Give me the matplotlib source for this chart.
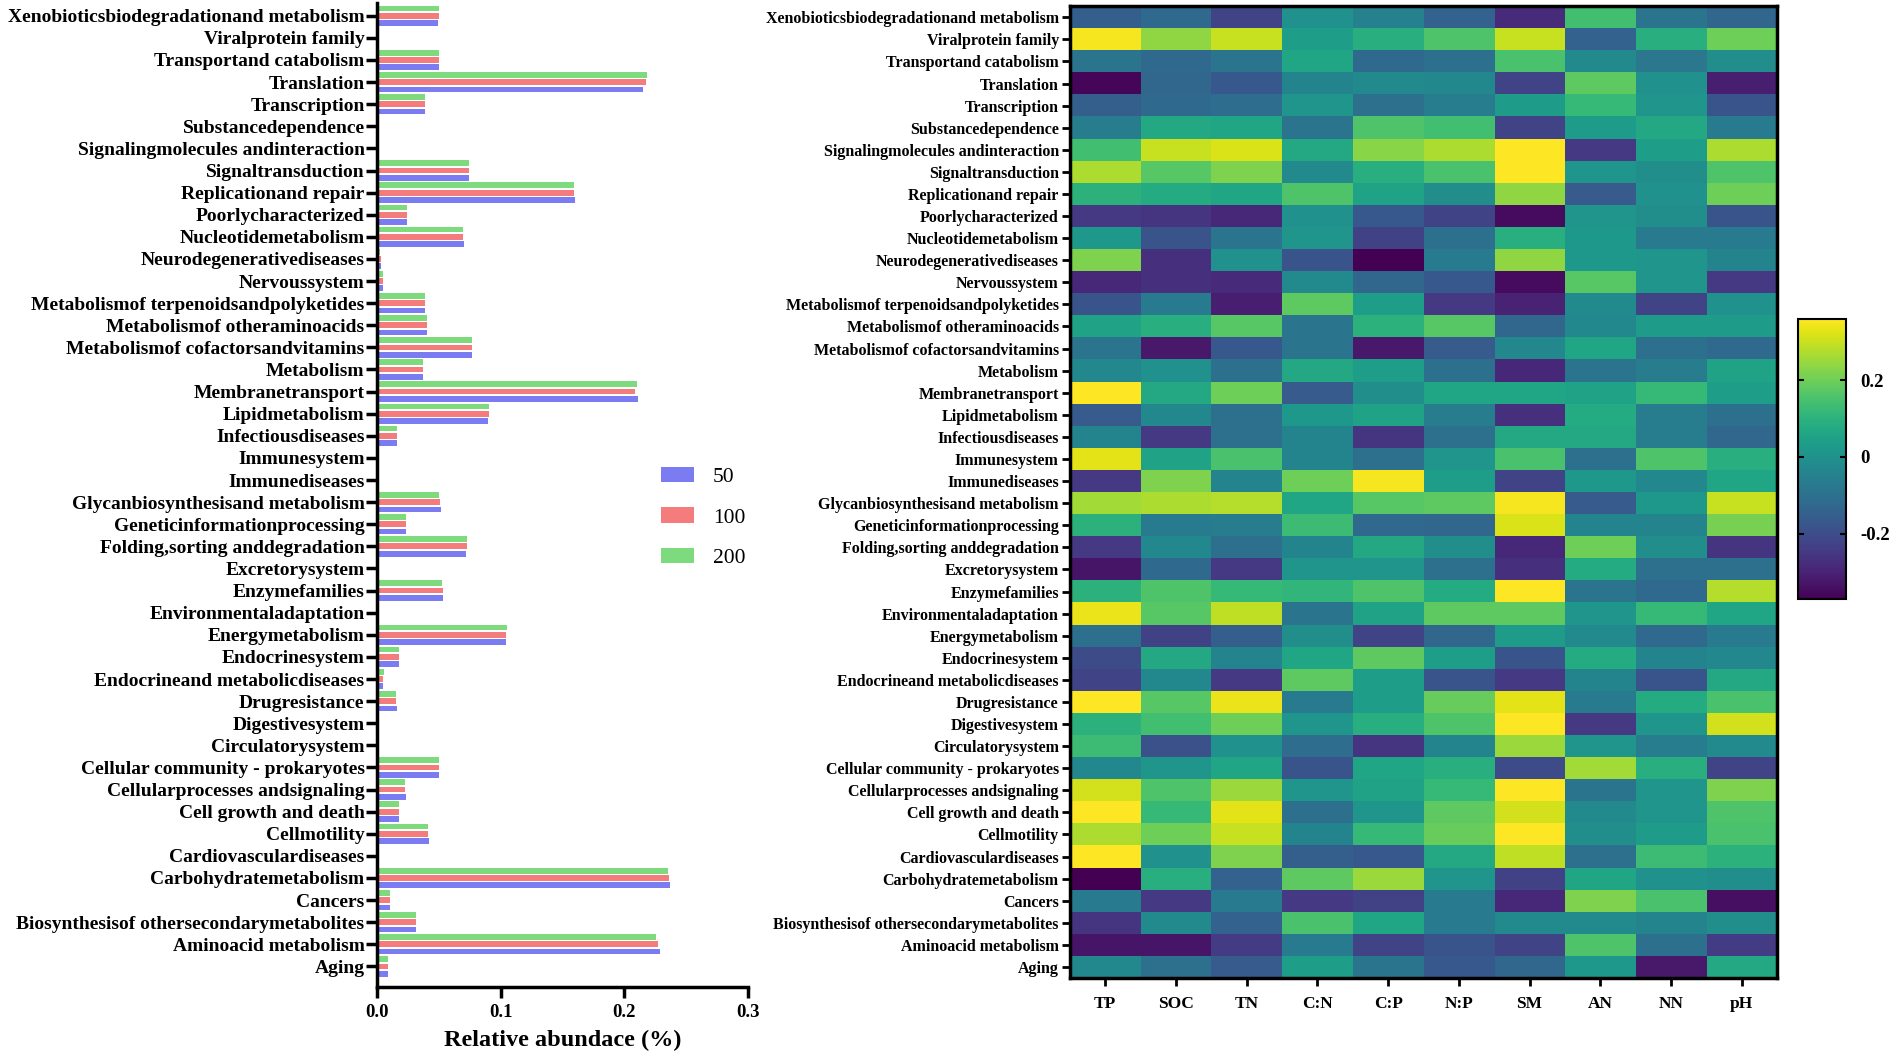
import numpy as np
import matplotlib
matplotlib.use("Agg")
import matplotlib.pyplot as plt
from matplotlib.patches import Patch

plt.rcParams['font.family'] = ['Liberation Serif', 'DejaVu Serif']

# pathways, top to bottom as in the figure
pathways = [
    "Xenobioticsbiodegradationand metabolism", "Viralprotein family",
    "Transportand catabolism", "Translation", "Transcription",
    "Substancedependence", "Signalingmolecules andinteraction",
    "Signaltransduction", "Replicationand repair", "Poorlycharacterized",
    "Nucleotidemetabolism", "Neurodegenerativediseases", "Nervoussystem",
    "Metabolismof terpenoidsandpolyketides", "Metabolismof otheraminoacids",
    "Metabolismof cofactorsandvitamins", "Metabolism", "Membranetransport",
    "Lipidmetabolism", "Infectiousdiseases", "Immunesystem", "Immunediseases",
    "Glycanbiosynthesisand metabolism", "Geneticinformationprocessing",
    "Folding,sorting anddegradation", "Excretorysystem", "Enzymefamilies",
    "Environmentaladaptation", "Energymetabolism", "Endocrinesystem",
    "Endocrineand metabolicdiseases", "Drugresistance", "Digestivesystem",
    "Circulatorysystem", "Cellular community - prokaryotes",
    "Cellularprocesses andsignaling", "Cell growth and death", "Cellmotility",
    "Cardiovasculardiseases", "Carbohydratemetabolism", "Cancers",
    "Biosynthesisof othersecondarymetabolites", "Aminoacid metabolism", "Aging",
]

groups = ["50", "100", "200"]
ab_50 = [0.049, 0, 0.050, 0.215, 0.039, 0, 0.0005, 0.0745, 0.160, 0.0244,
         0.070, 0.003, 0.0045, 0.039, 0.040, 0.077, 0.037, 0.211, 0.0895, 0.0164,
         0.0008, 0, 0.0516, 0.0233, 0.072, 0, 0.053, 0, 0.1044, 0.0178,
         0.005, 0.016, 0, 0, 0.050, 0.023, 0.018, 0.0424, 0.0003, 0.237,
         0.0106, 0.0314, 0.229, 0.0086]
ab_100 = [0.050, 0, 0.050, 0.2175, 0.039, 0, 0.001, 0.074, 0.159, 0.0244,
          0.0698, 0.003, 0.0045, 0.039, 0.040, 0.077, 0.037, 0.209, 0.0905, 0.0164,
          0.001, 0, 0.051, 0.0233, 0.0724, 0, 0.053, 0, 0.1047, 0.0178,
          0.005, 0.0157, 0, 0, 0.050, 0.0224, 0.0176, 0.0416, 0.0003, 0.236,
          0.0106, 0.0314, 0.227, 0.0086]
ab_200 = [0.050, 0, 0.050, 0.218, 0.039, 0, 0.0005, 0.074, 0.159, 0.0244,
          0.0698, 0.0027, 0.0048, 0.039, 0.040, 0.077, 0.037, 0.210, 0.0905, 0.0164,
          0.0005, 0, 0.0505, 0.0233, 0.073, 0, 0.0527, 0, 0.105, 0.0178,
          0.0055, 0.0157, 0, 0, 0.050, 0.0224, 0.0176, 0.0416, 0.0003, 0.2353,
          0.0106, 0.0314, 0.226, 0.0086]

factors = ["TP", "SOC", "TN", "C:N", "C:P", "N:P", "SM", "AN", "NN", "pH"]
corr = [
    [-0.15, -0.12, -0.22, 0.00, -0.05, -0.14, -0.28, 0.14, -0.09, -0.13],
    [0.35, 0.24, 0.30, 0.04, 0.09, 0.16, 0.30, -0.14, 0.09, 0.20],
    [-0.09, -0.12, -0.09, 0.06, -0.12, -0.10, 0.15, -0.02, -0.08, -0.01],
    [-0.36, -0.13, -0.17, -0.04, -0.02, -0.03, -0.22, 0.18, 0.00, -0.31],
    [-0.15, -0.12, -0.11, 0.01, -0.10, -0.06, 0.03, 0.12, 0.01, -0.18],
    [-0.06, 0.07, 0.06, -0.09, 0.16, 0.14, -0.22, 0.03, 0.07, -0.07],
    [0.14, 0.30, 0.32, 0.07, 0.23, 0.27, 0.36, -0.25, 0.04, 0.27],
    [0.27, 0.17, 0.22, -0.02, 0.09, 0.15, 0.36, 0.01, -0.01, 0.16],
    [0.10, 0.08, 0.06, 0.16, 0.05, -0.01, 0.24, -0.16, 0.00, 0.20],
    [-0.25, -0.26, -0.29, 0.00, -0.17, -0.22, -0.35, 0.01, -0.01, -0.18],
    [0.02, -0.18, -0.09, 0.01, -0.23, -0.10, 0.09, 0.02, -0.07, -0.07],
    [0.22, -0.27, 0.00, -0.18, -0.37, -0.07, 0.24, 0.02, 0.01, -0.04],
    [-0.29, -0.27, -0.28, -0.02, -0.13, -0.17, -0.35, 0.17, 0.01, -0.25],
    [-0.18, -0.07, -0.31, 0.18, 0.04, -0.25, -0.30, -0.02, -0.22, 0.00],
    [0.05, 0.09, 0.17, -0.09, 0.10, 0.17, -0.13, -0.03, 0.03, 0.03],
    [-0.09, -0.32, -0.17, -0.09, -0.32, -0.16, -0.03, 0.06, -0.10, -0.12],
    [-0.03, 0.00, -0.10, 0.07, 0.04, -0.10, -0.29, -0.09, -0.06, 0.05],
    [0.37, 0.07, 0.20, -0.16, -0.01, 0.06, 0.06, 0.05, 0.12, 0.04],
    [-0.16, -0.03, -0.10, 0.02, 0.05, -0.06, -0.27, 0.08, -0.06, -0.10],
    [-0.04, -0.25, -0.10, -0.04, -0.26, -0.10, 0.07, 0.07, -0.06, -0.13],
    [0.33, 0.05, 0.15, -0.04, -0.10, 0.01, 0.15, -0.10, 0.16, 0.09],
    [-0.25, 0.22, -0.04, 0.20, 0.35, 0.04, -0.22, 0.02, -0.03, 0.06],
    [0.26, 0.27, 0.28, 0.06, 0.17, 0.18, 0.35, -0.16, 0.02, 0.30],
    [0.10, -0.07, -0.06, 0.13, -0.12, -0.13, 0.32, -0.04, -0.04, 0.21],
    [-0.25, -0.03, -0.10, -0.04, 0.07, -0.01, -0.29, 0.20, -0.01, -0.26],
    [-0.33, -0.12, -0.25, 0.01, 0.01, -0.10, -0.27, 0.08, -0.10, -0.10],
    [0.10, 0.16, 0.12, 0.11, 0.16, 0.08, 0.36, -0.09, -0.12, 0.28],
    [0.34, 0.17, 0.29, -0.09, 0.05, 0.18, 0.18, 0.01, 0.12, 0.06],
    [-0.10, -0.23, -0.15, -0.01, -0.22, -0.13, 0.03, -0.02, -0.12, -0.07],
    [-0.20, 0.07, -0.04, 0.06, 0.18, 0.04, -0.18, 0.08, -0.04, -0.03],
    [-0.22, -0.03, -0.25, 0.18, 0.04, -0.18, -0.25, -0.04, -0.18, 0.07],
    [0.36, 0.17, 0.34, -0.07, 0.04, 0.19, 0.33, -0.07, 0.08, 0.15],
    [0.10, 0.14, 0.20, 0.01, 0.09, 0.16, 0.36, -0.25, 0.01, 0.31],
    [0.13, -0.19, 0.00, -0.11, -0.26, -0.04, 0.25, 0.01, -0.06, -0.02],
    [-0.03, 0.01, 0.06, -0.18, 0.06, 0.09, -0.20, 0.26, 0.09, -0.22],
    [0.31, 0.16, 0.25, 0.01, 0.05, 0.12, 0.36, -0.09, 0.01, 0.22],
    [0.36, 0.12, 0.33, -0.10, 0.01, 0.18, 0.31, -0.02, 0.01, 0.16],
    [0.27, 0.20, 0.30, -0.04, 0.12, 0.19, 0.37, -0.01, 0.03, 0.15],
    [0.37, 0.00, 0.22, -0.15, -0.17, 0.07, 0.29, -0.10, 0.13, 0.10],
    [-0.37, 0.09, -0.14, 0.18, 0.25, 0.01, -0.23, 0.06, 0.00, -0.01],
    [-0.07, -0.25, -0.07, -0.25, -0.23, -0.07, -0.29, 0.22, 0.15, -0.34],
    [-0.26, -0.02, -0.14, 0.15, 0.06, -0.07, -0.02, -0.02, -0.04, -0.01],
    [-0.33, -0.33, -0.24, -0.07, -0.22, -0.18, -0.22, 0.16, -0.10, -0.24],
    [-0.03, -0.10, -0.16, 0.04, -0.09, -0.17, -0.13, 0.02, -0.32, 0.07],
]

colors = ["#7b7bf2", "#f47c7c", "#7dda7d"]

fig = plt.figure(figsize=(18.92, 10.54), dpi=100)

# ---- left: grouped horizontal bars ----
ax = fig.add_axes([0.1993, 0.0636, 0.196, 0.9334])
n = len(pathways)
y = np.arange(n)[::-1]
h = 0.26
off = 0.33
for vals, c, dy in zip([ab_50, ab_100, ab_200], colors, [-off, 0, off]):
    ax.barh(y + dy, vals, height=h, color=c)

ax.set_xlim(0, 0.3)
ax.set_ylim(-0.93, n - 1 + 0.57)
ax.set_yticks(y)
ax.set_yticklabels(pathways, fontsize=14, fontweight='bold')
ax.set_xticks([0, 0.1, 0.2, 0.3])
ax.set_xticklabels(["0.0", "0.1", "0.2", "0.3"], fontsize=13.5, fontweight='bold')
ax.set_xlabel("Relative abundace (%)", fontsize=17.5, fontweight='bold', labelpad=7)
for s in ['top', 'right']:
    ax.spines[s].set_visible(False)
for s in ['left', 'bottom']:
    ax.spines[s].set_linewidth(2.5)
ax.tick_params(axis='y', length=8, width=2.5, pad=1)
ax.tick_params(axis='x', length=8, width=2.5, pad=4)

handles = [Patch(facecolor=c, label=g) for c, g in zip(colors, groups)]
fig.legend(handles=handles, loc='center left', bbox_to_anchor=(0.3495, 0.509),
           frameon=False, fontsize=15.5, handlelength=1.5, handleheight=0.7,
           labelspacing=0.95, handletextpad=0.9, borderpad=0, borderaxespad=0)

# ---- right: correlation heatmap ----
hx = fig.add_axes([0.5655, 0.0721, 0.3737, 0.922])
im = hx.imshow(np.array(corr), cmap='viridis', vmin=-0.37, vmax=0.36,
               aspect='auto', interpolation='nearest')
hx.set_xticks(np.arange(len(factors)))
hx.set_xticklabels(factors, fontsize=12.5, fontweight='bold')
hx.set_yticks(np.arange(n))
hx.set_yticklabels(pathways, fontsize=11.5, fontweight='bold')
for s in hx.spines.values():
    s.set_linewidth(2.5)
hx.tick_params(axis='both', length=6, width=2, pad=2)
hx.tick_params(axis='x', pad=7)

cax = fig.add_axes([0.9503, 0.4317, 0.0254, 0.266])
cb = fig.colorbar(im, cax=cax, ticks=[-0.2, 0, 0.2])
cb.ax.set_yticklabels(["-0.2", "0", "0.2"], fontsize=13.5, fontweight='bold')
cb.ax.tick_params(direction='in', length=4, width=1.5, left=True, right=True, pad=10)
cb.outline.set_linewidth(1.5)

fig.savefig("out.png", dpi=100)
